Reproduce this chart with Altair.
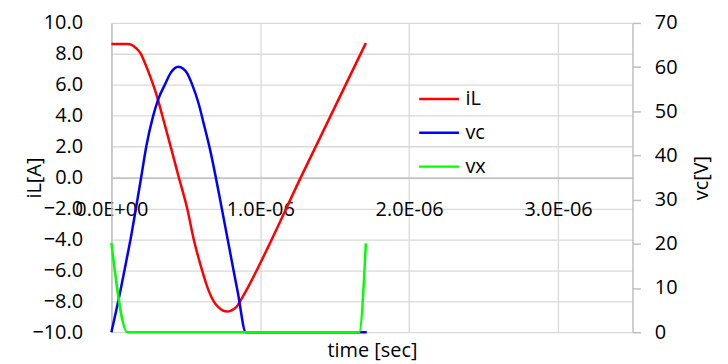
import altair as alt
import pandas as pd

# ---- data (time in microseconds) ----
t_iL_us = [0, 0.06, 0.11, 0.135, 0.164, 0.198, 0.22, 0.264, 0.309, 0.342, 0.398, 0.453,
           0.509, 0.553, 0.609, 0.645, 0.687, 0.72, 0.75, 0.776, 0.80, 0.82, 0.845,
           0.864, 0.92, 0.976, 1.053, 1.264, 1.709]
iL_A = [8.64, 8.64, 8.63, 8.58, 8.38, 8.0, 7.52, 6.45, 5.16, 4.0, 2.0, 0.0,
        -2.0, -4.0, -6.0, -7.1, -8.0, -8.4, -8.6, -8.66, -8.62, -8.52, -8.3,
        -8.0, -7.05, -6.0, -4.48, -0.15, 8.70]

t_vc_us = [0, 0.058, 0.098, 0.131, 0.164, 0.2, 0.235, 0.28, 0.313, 0.36, 0.40, 0.45,
           0.48, 0.507, 0.542, 0.587, 0.62, 0.664, 0.742, 0.809, 0.849, 0.903, 1.715]
vc_V = [0, 9.0, 15.8, 21.5, 27.9, 35.1, 42.2, 48.9, 52.6, 56.1, 58.8, 60.1,
        59.7, 58.7, 56.1, 51.6, 47.2, 41.1, 27.9, 16.0, 9.0, 0, 0]

t_vx_us = [0, 0.107, 1.664, 1.709]
vx_V = [20.2, 0, 0, 20.1]

series_names = ["iL", "vc", "vx"]
series_colors = ["#ff0000", "#0000ff", "#00ff00"]
left_ticks = [-10, -8, -6, -4, -2, 0, 2, 4, 6, 8, 10]
right_ticks = [0, 10, 20, 30, 40, 50, 60, 70]
x_ticks_us = [0, 1, 2, 3]

FONT = "Open Sans"
FS = 20
W, H = 524, 311
GRID = "#d9d9d9"
AXC = "#bfbfbf"

left_df = pd.DataFrame({"t": [v * 1e-6 for v in t_iL_us], "val": iL_A, "series": "iL"})
right_df = pd.concat([
    pd.DataFrame({"t": [v * 1e-6 for v in t_vc_us], "val": vc_V, "series": "vc"}),
    pd.DataFrame({"t": [v * 1e-6 for v in t_vx_us], "val": vx_V, "series": "vx"}),
], ignore_index=True)

x_enc = alt.X(
    "t:Q",
    scale=alt.Scale(domain=[0, 3.5e-6], nice=False, zero=False),
    axis=alt.Axis(
        values=[v * 1e-6 for v in x_ticks_us],
        labelExpr="datum.value == 0 ? '0.0E+00' : format(datum.value*1e6, '.1f') + 'E-06'",
        offset=-H / 2,
        ticks=False, tickSize=0, labelPadding=22,
        grid=True, gridColor=GRID, gridWidth=1.3,
        domainColor=AXC, domainWidth=1.5,
        labelFlush=False, labelOverlap=False,
        title="time [sec]", titleY=174, titleBaseline="middle",
    ),
)

legend = alt.Legend(
    orient="none", legendX=308, legendY=55, title=None,
    symbolType="stroke", symbolSize=1600, symbolStrokeWidth=2.5,
    labelFontSize=FS, rowPadding=2, labelOffset=5, labelColor="black",
)
color_enc = alt.Color("series:N", scale=alt.Scale(domain=series_names, range=series_colors), legend=legend)

left_layer = alt.Chart(left_df).mark_line(strokeWidth=2.5, strokeJoin="round", interpolate="monotone").encode(
    x=x_enc,
    y=alt.Y(
        "val:Q",
        scale=alt.Scale(domain=[-10, 10], nice=False),
        axis=alt.Axis(
            values=left_ticks, format=".1f", ticks=False, tickSize=0, labelPadding=29,
            grid=True, gridColor=GRID, gridWidth=1.3,
            domainColor=AXC, domainWidth=1.5,
            title="iL[A]", titleX=-77, titleY=H / 2, titleAngle=270,
            titleAlign="center", titleBaseline="middle",
        ),
    ),
    color=color_enc,
)

right_layer = alt.Chart(right_df).mark_line(strokeWidth=2.5, strokeJoin="round", interpolate="monotone").encode(
    x=x_enc,
    y=alt.Y(
        "val:Q",
        scale=alt.Scale(domain=[0, 70], nice=False),
        axis=alt.Axis(
            orient="right", values=right_ticks, format="d",
            tickSize=8, tickColor=AXC, tickWidth=1.5, labelPadding=14,
            grid=False, domainColor=AXC, domainWidth=1.5,
            title="vc[V]", titleX=69, titleY=H / 2, titleAngle=270,
            titleAlign="center", titleBaseline="middle",
        ),
    ),
    color=color_enc,
)

chart = (
    alt.layer(left_layer, right_layer)
    .resolve_scale(y="independent")
    .properties(
        width=W, height=H,
        autosize=alt.AutoSizeParams(type="none"),
        padding={"left": 104, "top": 14, "right": 88, "bottom": 36},
    )
    .configure(font=FONT)
    .configure_view(strokeWidth=0)
    .configure_axis(
        labelFontSize=FS, titleFontSize=FS, labelColor="black", titleColor="black",
        titleFontWeight="normal", labelFont=FONT, titleFont=FONT,
    )
    .configure_legend(labelFont=FONT)
)

chart.save("out.html", embed_options={"renderer": "svg", "actions": False})
